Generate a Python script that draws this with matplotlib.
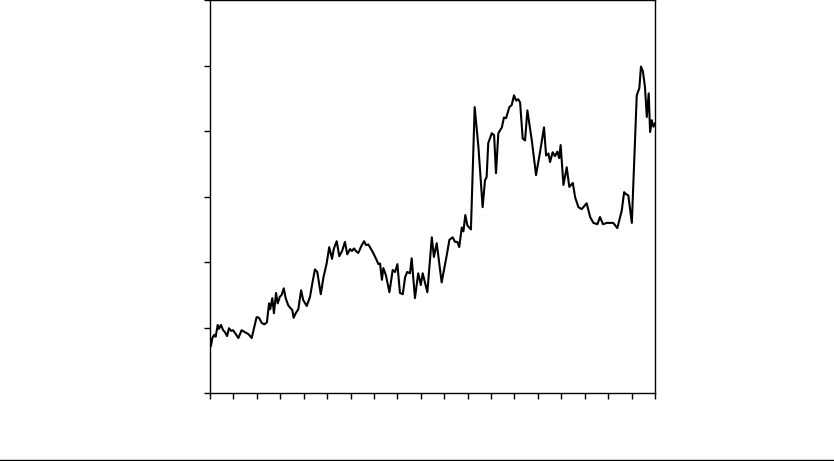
import matplotlib
matplotlib.use("Agg")
import matplotlib.pyplot as plt
from matplotlib.lines import Line2D

# series (x in tick units, y in axis units)
t = [0.04, 0.10, 0.18, 0.24, 0.33, 0.38, 0.47, 0.56, 0.64, 0.73, 0.81, 0.90, 0.98,
     1.10, 1.21, 1.35, 1.49, 1.64, 1.78, 1.89, 1.99, 2.09, 2.21, 2.32, 2.43, 2.52,
     2.57, 2.66, 2.73, 2.82, 2.89, 2.98, 3.06, 3.15, 3.23, 3.34, 3.43, 3.51, 3.57,
     3.66, 3.77, 3.89, 3.98, 4.13, 4.27, 4.37, 4.48, 4.58, 4.73, 4.84, 4.98, 5.09,
     5.21, 5.29, 5.41, 5.52, 5.64, 5.76, 5.86, 5.98, 6.06, 6.15, 6.23, 6.33, 6.48,
     6.58, 6.66, 6.76, 6.86, 6.97, 7.09, 7.19, 7.26, 7.34, 7.40, 7.51, 7.66, 7.80,
     7.90, 8.00, 8.11, 8.23, 8.33, 8.42, 8.54, 8.61, 8.75, 8.89, 9.00, 9.08, 9.28,
     9.47, 9.56, 9.68, 9.89, 10.11, 10.22, 10.36, 10.46, 10.56, 10.64, 10.75, 10.82,
     10.90, 10.99, 11.14, 11.30, 11.46, 11.64, 11.74, 11.81, 11.88, 12.03, 12.13,
     12.21, 12.31, 12.46, 12.55, 12.64, 12.78, 12.88, 12.98, 13.07, 13.16, 13.24,
     13.35, 13.45, 13.55, 13.74, 13.92, 14.09, 14.26, 14.35, 14.45, 14.52, 14.63,
     14.73, 14.83, 14.91, 14.97, 15.09, 15.23, 15.34, 15.49, 15.59, 15.73, 15.87,
     16.08, 16.23, 16.37, 16.54, 16.65, 16.78, 16.94, 17.08, 17.22, 17.39, 17.58,
     17.68, 17.76, 17.86, 18.01, 18.22, 18.33, 18.40, 18.48, 18.57, 18.65, 18.73,
     18.79, 18.86, 18.93, 19.00]
values = [0.72, 0.84, 0.89, 0.86, 1.04, 0.98, 1.04, 0.96, 0.93, 0.87, 0.99, 0.95, 0.96,
          0.90, 0.84, 0.96, 0.93, 0.90, 0.84, 1.01, 1.16, 1.15, 1.07, 1.05, 1.08, 1.37,
          1.28, 1.45, 1.22, 1.53, 1.37, 1.47, 1.50, 1.60, 1.45, 1.34, 1.30, 1.27, 1.15,
          1.22, 1.28, 1.57, 1.42, 1.33, 1.47, 1.68, 1.89, 1.85, 1.51, 1.76, 1.98, 2.23,
          2.05, 2.21, 2.32, 2.09, 2.17, 2.31, 2.12, 2.20, 2.17, 2.21, 2.17, 2.14, 2.26,
          2.32, 2.26, 2.27, 2.21, 2.14, 2.05, 1.97, 1.98, 1.73, 1.91, 1.80, 1.54, 1.88,
          1.85, 1.97, 1.53, 1.51, 1.77, 1.85, 1.83, 2.06, 1.45, 1.83, 1.65, 1.83, 1.54,
          2.38, 2.08, 2.29, 1.69, 2.11, 2.34, 2.38, 2.31, 2.31, 2.23, 2.53, 2.47,
          2.72, 2.56, 2.50, 4.37, 3.76, 2.84, 3.25, 3.30, 3.82, 3.97, 3.94,
          3.36, 3.97, 4.06, 4.21, 4.20, 4.37, 4.40, 4.55, 4.47, 4.49, 4.44,
          3.89, 3.86, 4.32, 3.86, 3.33, 3.68, 4.06, 3.63, 3.66, 3.53, 3.68,
          3.62, 3.69, 3.59, 3.79, 3.18, 3.45, 3.15, 3.21, 2.99, 2.84, 2.81,
          2.90, 2.69, 2.60, 2.58, 2.69, 2.58, 2.60, 2.60, 2.60, 2.52, 2.79,
          3.07, 3.04, 3.02, 2.60, 4.55, 4.66, 4.99, 4.92, 4.68, 4.22, 4.58,
          3.99, 4.17, 4.07, 4.12]

x_ticks = list(range(0, 20))
y_ticks = list(range(0, 7))

fig = plt.figure(figsize=(8.34, 4.61), dpi=100)
ax = fig.add_axes([0.2518, 0.1475, 0.5336, 0.8515])

ax.plot(t, values, color="black", linewidth=1.5)

ax.set_xlim(0, 19)
ax.set_ylim(0, 6)
ax.set_xticks(x_ticks)
ax.set_yticks(y_ticks)
ax.tick_params(direction="out", length=4.5, width=1, labelbottom=False, labelleft=False)
for s in ax.spines.values():
    s.set_linewidth(1)

# thin rule along the bottom of the figure
fig.add_artist(Line2D([0, 1], [0.0015, 0.0015], transform=fig.transFigure,
                      color="black", linewidth=1))

fig.savefig("out.png", dpi=100)
